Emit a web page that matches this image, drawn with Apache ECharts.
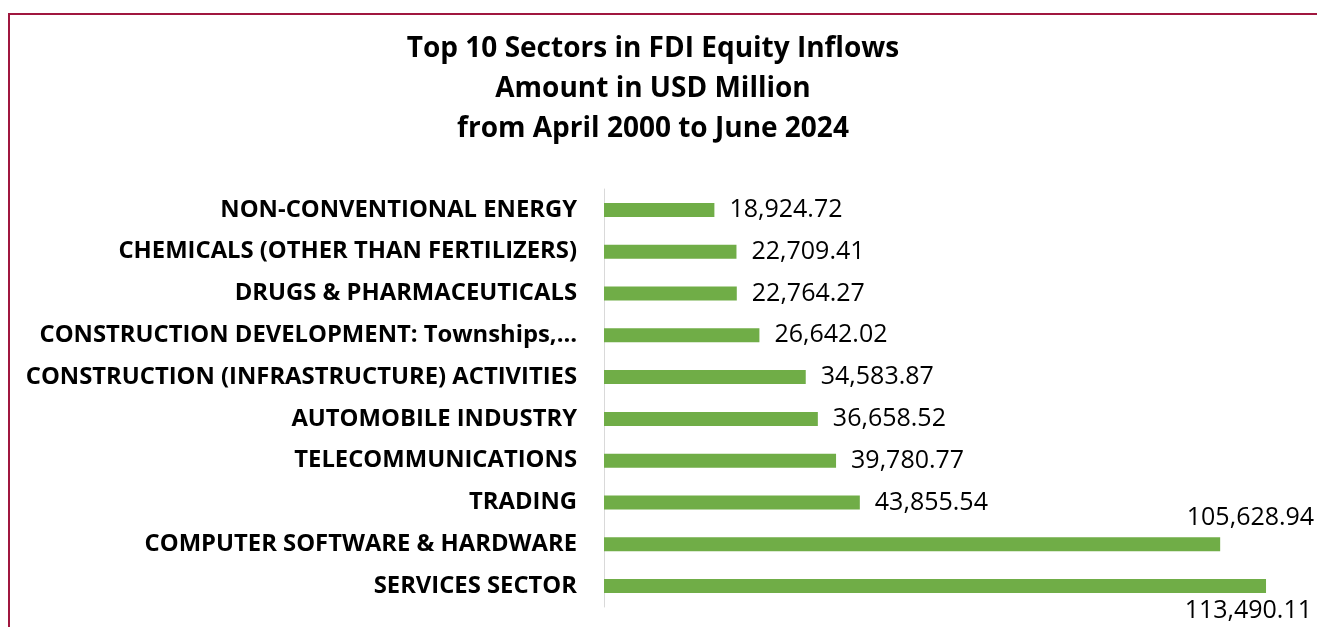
<!DOCTYPE html>
<html><head><meta charset="utf-8">
<script src="https://cdn.jsdelivr.net/npm/echarts@6/dist/echarts.min.js"></script>
<style>html,body{margin:0;padding:0;background:#fff}#c{width:1317px;height:627px}</style>
</head><body><div id="c"></div>
<script>
const categories = [
  "NON-CONVENTIONAL ENERGY",
  "CHEMICALS (OTHER THAN FERTILIZERS)",
  "DRUGS & PHARMACEUTICALS",
  "CONSTRUCTION DEVELOPMENT: Townships,…",
  "CONSTRUCTION (INFRASTRUCTURE) ACTIVITIES",
  "AUTOMOBILE INDUSTRY",
  "TELECOMMUNICATIONS",
  "TRADING",
  "COMPUTER SOFTWARE & HARDWARE",
  "SERVICES SECTOR"
];
const values = [18924.72, 22709.41, 22764.27, 26642.02, 34583.87, 36658.52, 39780.77, 43855.54, 105628.94, 113490.11];
const titleLines = ["Top 10 Sectors in FDI Equity Inflows", "Amount in USD Million", "from April 2000 to June 2024"];

const fmt = v => v.toLocaleString('en-US', {minimumFractionDigits: 2, maximumFractionDigits: 2});
const FONT = "Open Sans";
const chart = echarts.init(document.getElementById('c'), null, {renderer: 'canvas'});
const seriesData = values.map((v, i) => {
  const item = {value: v};
  if (i === values.length - 2) {
    item.label = {align: 'right', offset: [79, -26]};
  } else if (i === values.length - 1) {
    item.label = {align: 'right', offset: [31, 25]};
  }
  return item;
});
chart.setOption({
  animation: false,
  backgroundColor: '#fff',
  title: {
    text: titleLines.join('\n'),
    left: 648, top: 24, textAlign: 'center',
    textStyle: {fontFamily: FONT, fontWeight: 'bold', fontSize: 28, lineHeight: 40, color: '#000'}
  },
  graphic: [
    {type: 'polyline', shape: {points: [[9, 640], [9, 14], [1330, 14]]}, style: {stroke: '#a0173f', lineWidth: 2, fill: null}, silent: true}
  ],
  grid: {left: 604, top: 189, width: 700, height: 418, containLabel: false},
  xAxis: {type: 'value', min: 0, max: 120000, show: false},
  yAxis: {
    type: 'category', data: categories, inverse: true,
    axisLine: {show: true, lineStyle: {color: '#d9d9d9', width: 1}},
    axisTick: {show: false},
    axisLabel: {margin: 27, fontFamily: FONT, fontWeight: 'bold', fontSize: 23.8, color: '#000'}
  },
  series: [{
    type: 'bar', data: seriesData, barWidth: 14,
    itemStyle: {color: '#70ad47'},
    label: {show: true, position: 'right', distance: 15, formatter: p => fmt(p.value),
      fontFamily: FONT, fontSize: 25, color: '#000'}
  }]
});
</script></body></html>
